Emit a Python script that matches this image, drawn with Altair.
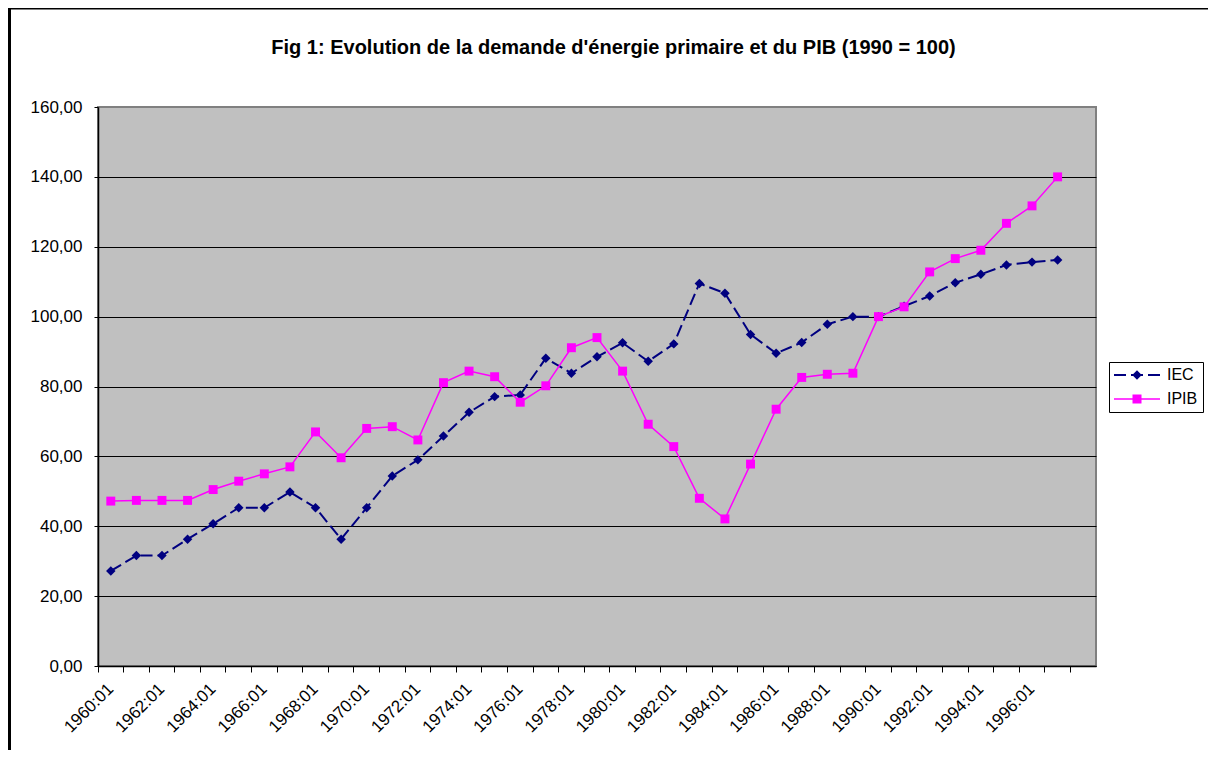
import altair as alt
import pandas as pd

categories = ["1960:01", "1961:01", "1962:01", "1963:01", "1964:01", "1965:01", "1966:01", "1967:01",
              "1968:01", "1969:01", "1970:01", "1971:01", "1972:01", "1973:01", "1974:01", "1975:01",
              "1976:01", "1977:01", "1978:01", "1979:01", "1980:01", "1981:01", "1982:01", "1983:01",
              "1984:01", "1985:01", "1986:01", "1987:01", "1988:01", "1989:01", "1990:01", "1991:01",
              "1992:01", "1993:01", "1994:01", "1995:01", "1996:01", "1997:01", "1998:01"]

iec = [27.2, 31.6, 31.6, 36.3, 40.7, 45.3, 45.3, 49.8, 45.3, 36.3,
       45.3, 54.4, 59.0, 65.8, 72.6, 77.1, 77.6, 88.1, 83.8, 88.5,
       92.5, 87.2, 92.2, 109.5, 106.7, 94.9, 89.5, 92.6, 97.8, 100.0,
       100.0, 103.0, 105.9, 109.7, 112.1, 114.8, 115.6, 116.2]

ipib = [47.2, 47.4, 47.4, 47.4, 50.5, 52.9, 55.0, 57.0, 67.0, 59.6,
        68.0, 68.5, 64.7, 81.1, 84.4, 82.8, 75.5, 80.2, 91.1, 94.0,
        84.4, 69.2, 62.8, 48.0, 42.1, 57.8, 73.5, 82.6, 83.5, 83.8,
        100.0, 102.8, 112.8, 116.6, 119.0, 126.7, 131.7, 140.0]

series_names = ["IEC", "IPIB"]
series_colors = ["#000080", "#FF00FF"]
y_ticks = [0, 20, 40, 60, 80, 100, 120, 140, 160]
label_cats = categories[0:38:2]
title_text = "Fig 1: Evolution de la demande d'énergie primaire et du PIB (1990 = 100)"

rows = []
for c, v in zip(categories, iec):
    rows.append({"cat": c, "series": "IEC", "value": v})
for c, v in zip(categories, ipib):
    rows.append({"cat": c, "series": "IPIB", "value": v})
df = pd.DataFrame(rows)

FONT = "Liberation Sans"

xscale = alt.Scale(type="band", domain=categories, paddingInner=0, paddingOuter=0)
yenc = alt.Y("value:Q", scale=alt.Scale(domain=[0, 160], nice=False, zero=True),
             axis=alt.Axis(values=y_ticks,
                           labelExpr="replace(format(datum.value, '.2f'), '.', ',')",
                           tickSize=4, tickColor="black", tickWidth=1,
                           labelPadding=12, labelFont=FONT, labelFontSize=17, labelColor="black",
                           domainColor="black", domainWidth=1.5,
                           grid=True, gridColor={"condition": {"test": "datum.value === 160", "value": "#808080"}, "value": "black"},
                           gridWidth=1, gridOpacity=1, title=None))

x_labels = alt.X("cat:O", scale=xscale, bandPosition=0.5,
                 axis=alt.Axis(orient="bottom", values=label_cats, ticks=False, tickSize=0,
                               labelAngle=-45, labelAlign="right", labelBaseline="middle",
                               labelPadding=20, labelFont=FONT, labelFontSize=17, labelColor="black",
                               labelOverlap=False, domain=True, domainColor="black", domainWidth=1.5,
                               grid=False, title=None))
x_ticks = alt.X("cat:O", scale=xscale, bandPosition=0.5,
                axis=alt.Axis(orient="bottom", bandPosition=0, labels=False, ticks=True, tickSize=6,
                              tickColor="black", tickWidth=1, domain=False, grid=False, title=None))
x_none = alt.X("cat:O", scale=xscale, bandPosition=0.5, axis=None)

iec_path = ("M-4.6,-0.2 H-2.2 V0.2 H-4.6 Z "
            "M-1.2,-0.2 H1.2 V0.2 H-1.2 Z "
            "M2.2,-0.2 H4.6 V0.2 H2.2 Z "
            "M0,-0.95 L0.95,0 L0,0.95 L-0.95,0 Z")
ipib_path = ("M-4.6,-0.15 H4.6 V0.15 H-4.6 Z "
             "M-0.9,-0.9 H0.9 V0.9 H-0.9 Z")

legend = alt.Legend(title=None, orient="none", legendX=1011, legendY=255, direction="vertical",
                    strokeColor="black", fillColor="white", padding=5, rowPadding=8,
                    labelFont=FONT, labelFontSize=16, labelColor="black",
                    symbolSize=100, symbolStrokeWidth=0, symbolOffset=15, labelOffset=22,
                    symbolOpacity=1,
                    symbolType=alt.ExprRef(expr="datum.value === 'IEC' ? '" + iec_path + "' : '" + ipib_path + "'"))

cscale = alt.Scale(domain=series_names, range=series_colors)
color_leg = alt.Color("series:N", scale=cscale, legend=legend)
color_noleg = alt.Color("series:N", scale=cscale, legend=None)

base = alt.Chart(df)

pts_iec = base.transform_filter("datum.series === 'IEC'").mark_point(
    shape="diamond", size=90, filled=True, opacity=1).encode(
    x=x_labels, y=yenc, color=color_leg)
line_iec = base.transform_filter("datum.series === 'IEC'").mark_line(
    strokeDash=[12, 5], strokeWidth=2).encode(x=x_ticks, y=yenc, color=color_noleg)
line_ipib = base.transform_filter("datum.series === 'IPIB'").mark_line(
    strokeWidth=1.5).encode(x=x_none, y=yenc, color=color_noleg)
pts_ipib = base.transform_filter("datum.series === 'IPIB'").mark_point(
    shape="square", size=80, filled=True, opacity=1).encode(
    x=x_none, y=yenc, color=color_leg)

one = alt.Data(values=[{}])
title_mark = alt.Chart(one).mark_text(font=FONT, fontSize=20, fontWeight="bold", color="black",
                                      align="center", baseline="middle").encode(
    x=alt.value(515.5), y=alt.value(-59), text=alt.value(title_text))
border_left = alt.Chart(one).mark_rule(color="black", strokeWidth=3).encode(
    x=alt.value(-88.5), y=alt.value(-99), y2=alt.value(700))
border_top = alt.Chart(one).mark_rule(color="black", strokeWidth=3).encode(
    x=alt.value(-88.5), x2=alt.value(1130), y=alt.value(-99))

chart = alt.layer(pts_iec, line_iec, line_ipib, pts_ipib, title_mark, border_left, border_top).resolve_axis(
    x="independent").properties(
    width=998, height=559,
    autosize=alt.AutoSizeParams(type="none"),
    padding={"left": 90, "top": 99, "right": 112, "bottom": 84},
).configure(background="white").configure_view(fill="#C0C0C0", stroke="#808080", strokeWidth=2)

chart.save("out.html", embed_options={"renderer": "svg", "actions": False})
